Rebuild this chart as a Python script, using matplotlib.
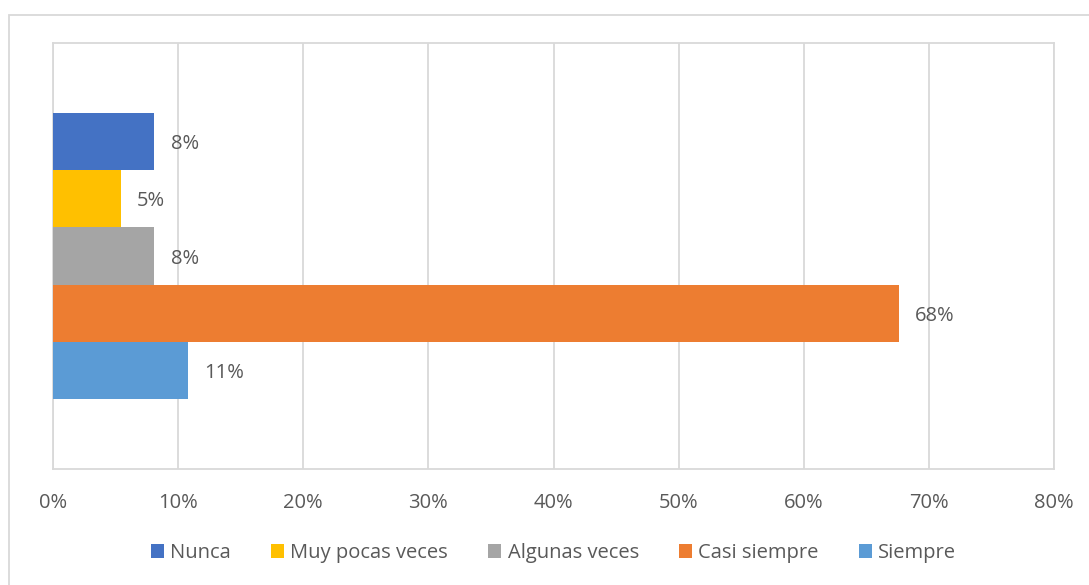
import matplotlib
matplotlib.use("Agg")
import matplotlib.pyplot as plt
from matplotlib.patches import Rectangle
from matplotlib.ticker import FuncFormatter

plt.rcParams["font.family"] = ["Open Sans", "DejaVu Sans"]

series = ["Nunca", "Muy pocas veces", "Algunas veces", "Casi siempre", "Siempre"]
values = [8.1, 5.4, 8.1, 67.6, 10.8]
labels = ["8%", "5%", "8%", "68%", "11%"]
colors = ["#4472C4", "#FFC000", "#A5A5A5", "#ED7D31", "#5B9BD5"]
xticks = [0, 10, 20, 30, 40, 50, 60, 70, 80]

text_color = "#595959"
grid_color = "#D9D9D9"
fs = 14.5

fig = plt.figure(figsize=(10.89, 5.85), dpi=100)
fig.patches.append(Rectangle((9 / 1089, -0.1), 1.2, 0.1 + 1 - 15 / 585,
                             transform=fig.transFigure, fill=False,
                             edgecolor=grid_color, linewidth=1.3))

ax = fig.add_axes([53 / 1089, 116 / 585, 1001 / 1089, 426 / 585])

for i, (name, v, lab, c) in enumerate(zip(series, values, labels, colors)):
    ax.barh(i, v, height=1.0, color=c, label=name, zorder=3)
    ax.text(v + 1.3, i, lab, va="center_baseline", ha="left", fontsize=fs, color=text_color)

ax.set_xlim(0, 80)
ax.set_ylim(5.72, -1.72)
ax.set_xticks(xticks)
ax.xaxis.set_major_formatter(FuncFormatter(lambda x, _: f"{x:.0f}%"))
ax.set_yticks([])
ax.tick_params(axis="x", length=0, pad=17, labelsize=fs, labelcolor=text_color)
ax.grid(axis="x", color=grid_color, linewidth=1.3, zorder=0)
for s in ax.spines.values():
    s.set_color(grid_color)
    s.set_linewidth(1.3)

ax.legend(loc="center", bbox_to_anchor=(0.5, (585 - 553 - 116) / 426), ncol=5,
          frameon=False, fontsize=fs, labelcolor=text_color,
          handlelength=0.65, handleheight=0.65, handletextpad=0.3, columnspacing=2.0)

fig.savefig("out.png", dpi=100)
